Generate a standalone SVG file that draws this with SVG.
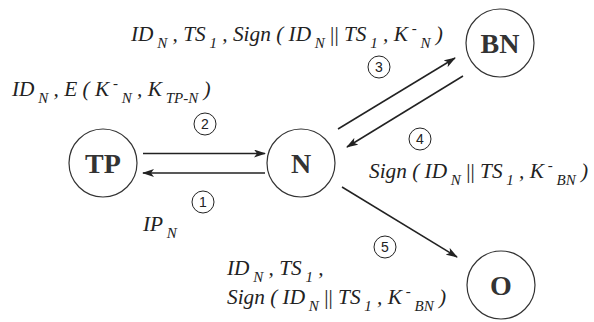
<svg xmlns="http://www.w3.org/2000/svg" width="594" height="322" viewBox="0 0 594 322">
<style>
.node{fill:#fff;stroke:#333;stroke-width:1.2}
.lbl{font-family:"Liberation Serif",serif;font-weight:bold;font-size:28px;fill:#333;text-anchor:middle}
.msg{font-family:"Liberation Serif",serif;font-style:italic;font-size:21.3px;fill:#222}
.sb{font-size:15px}
.up{font-style:normal}
.edge{stroke:#222;stroke-width:1.5;fill:none;marker-end:url(#ah)}
.num circle{fill:none;stroke:#222;stroke-width:1}
.num text{font-family:"Liberation Sans",sans-serif;font-size:14px;fill:#222;text-anchor:middle}
</style>
<defs>
<marker id="ah" viewBox="0 0 12 8" refX="11" refY="4" markerWidth="12" markerHeight="8" markerUnits="userSpaceOnUse" orient="auto">
<path d="M0,0 L12,4 L0,8 L3,4 z" fill="#222"/>
</marker>
</defs>
<rect width="594" height="322" fill="#fff"/>

<g id="connectors">
<line class="edge" x1="143" y1="153.5" x2="265" y2="153.5"/>
<line class="edge" x1="265" y1="173" x2="143" y2="173"/>
<line class="edge" x1="338" y1="129" x2="455" y2="58"/>
<line class="edge" x1="463" y1="76" x2="347" y2="147"/>
<line class="edge" x1="342" y1="187" x2="457" y2="257"/>
</g>

<g id="TP"><circle class="node" cx="103" cy="163" r="34"/><text class="lbl" x="103" y="173">TP</text></g>
<g id="N"><circle class="node" cx="301" cy="163" r="34"/><text class="lbl" x="301" y="173">N</text></g>
<g id="BN"><circle class="node" cx="500" cy="43" r="34"/><text class="lbl" x="500" y="53">BN</text></g>
<g id="O"><circle class="node" cx="501" cy="285" r="34"/><text class="lbl" x="501" y="295">O</text></g>

<g id="labels">
<g class="num"><circle cx="205" cy="124" r="11"/><text x="205" y="129">2</text></g>
<g class="num"><circle cx="203" cy="202" r="11"/><text x="203" y="207">1</text></g>
<g class="num"><circle cx="379" cy="67" r="11"/><text x="379" y="72">3</text></g>
<g class="num"><circle cx="420" cy="139" r="11"/><text x="420" y="144">4</text></g>
<g class="num"><circle cx="385" cy="247" r="11"/><text x="385" y="252">5</text></g>

<text class="msg" x="131" y="41">ID<tspan class="sb" dy="7"> N</tspan><tspan dy="-7"> , TS</tspan><tspan class="sb" dy="7"> 1</tspan><tspan dy="-7"> , Sign ( ID</tspan><tspan class="sb" dy="7"> N</tspan><tspan class="up" dy="-7"> || </tspan><tspan>TS</tspan><tspan class="sb" dy="7"> 1</tspan><tspan dy="-7"> , K</tspan><tspan class="sb up" dy="-8"> -</tspan><tspan class="sb" dy="15"> N</tspan><tspan dy="-7"> )</tspan></text>

<text class="msg" x="12" y="96">ID<tspan class="sb" dy="7"> N</tspan><tspan dy="-7"> , E ( K</tspan><tspan class="sb up" dy="-8"> -</tspan><tspan class="sb" dy="15"> N</tspan><tspan dy="-7"> , K</tspan><tspan class="sb" dy="7"> TP-N</tspan><tspan dy="-7"> )</tspan></text>

<text class="msg" x="143" y="231">IP<tspan class="sb" dy="7"> N</tspan></text>

<text class="msg" x="369" y="178">Sign ( ID<tspan class="sb" dy="7"> N</tspan><tspan class="up" dy="-7"> || </tspan><tspan>TS</tspan><tspan class="sb" dy="7"> 1</tspan><tspan dy="-7"> , K</tspan><tspan class="sb up" dy="-8"> -</tspan><tspan class="sb" dy="15"> BN</tspan><tspan dy="-7"> )</tspan></text>

<text class="msg" x="227" y="275">ID<tspan class="sb" dy="7"> N</tspan><tspan dy="-7"> , TS</tspan><tspan class="sb" dy="7"> 1</tspan><tspan dy="-7"> ,</tspan></text>
<text class="msg" x="227" y="304">Sign ( ID<tspan class="sb" dy="7"> N</tspan><tspan class="up" dy="-7"> || </tspan><tspan>TS</tspan><tspan class="sb" dy="7"> 1</tspan><tspan dy="-7"> , K</tspan><tspan class="sb up" dy="-8"> -</tspan><tspan class="sb" dy="15"> BN</tspan><tspan dy="-7"> )</tspan></text>
</g>
</svg>
